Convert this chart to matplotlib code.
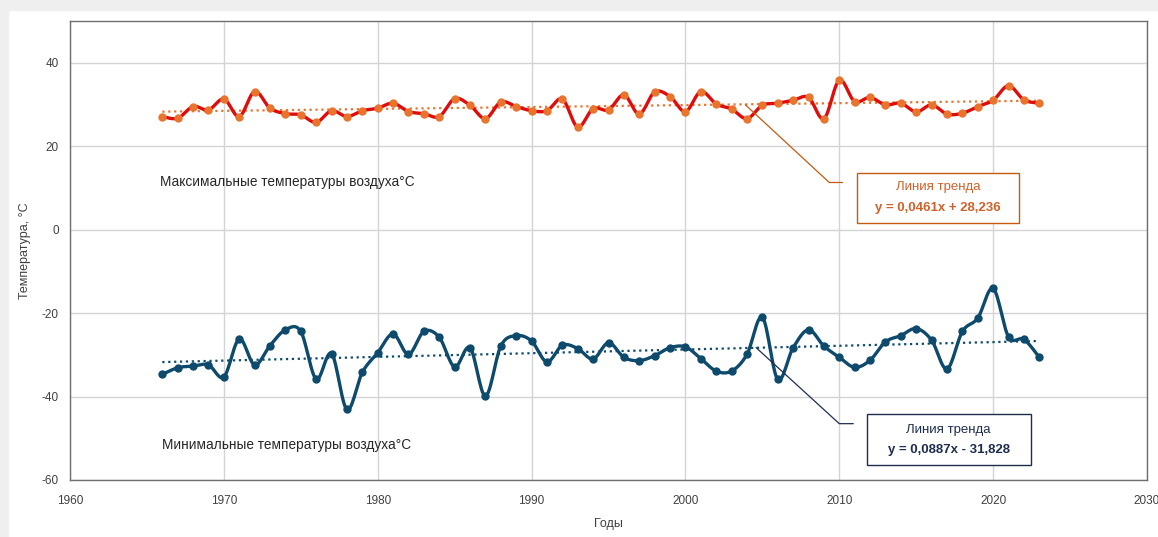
import numpy as np
import matplotlib
matplotlib.use('Agg')
import matplotlib.pyplot as plt
from matplotlib.patches import Rectangle

plt.rcParams['font.family'] = ['Liberation Sans', 'DejaVu Sans']
plt.rcParams['axes.unicode_minus'] = False

# данные
years = list(range(1966, 2024))
t_max = [27.1, 26.7, 29.5, 28.7, 31.3, 27.1, 33.1, 29.1, 27.8, 27.5,
         25.7, 28.5, 27.1, 28.5, 29.1, 30.3, 28.3, 27.8, 27.1, 31.4,
         29.8, 26.6, 30.6, 29.5, 28.5, 28.5, 31.3, 24.6, 29.0, 28.7,
         32.3, 27.7, 33.0, 31.9, 28.3, 33.1, 30.1, 28.9, 26.6, 29.8,
         30.3, 31.0, 31.7, 26.6, 35.8, 30.7, 31.7, 29.9, 30.3, 28.2,
         29.9, 27.7, 27.9, 29.5, 31.0, 34.5, 31.1, 30.3]
t_min = [-34.7, -33.1, -32.7, -32.4, -35.3, -26.2, -32.4, -27.8, -24.0, -24.4,
         -35.8, -29.7, -43.1, -34.2, -29.5, -25.0, -29.9, -24.4, -25.8, -32.9,
         -28.3, -39.9, -27.9, -25.4, -26.7, -31.7, -27.7, -28.5, -31.0, -27.1,
         -30.6, -31.4, -30.2, -28.3, -28.1, -30.9, -33.9, -33.9, -29.9, -21.0,
         -35.9, -28.3, -24.0, -27.9, -30.6, -33.0, -31.3, -26.9, -25.4, -23.7,
         -26.5, -33.4, -24.4, -21.2, -14.1, -25.7, -26.3, -30.6]
trend_max = (0.0461, 28.236)
trend_min = (0.0887, -31.828)

RED = '#e00c0c'
ORANGE = '#e8742e'
BLUE = '#0d4a6b'
NAVY = '#1f2d4d'


def smooth(x, y, n=16):
    # сглаживание как в Excel (Catmull-Rom через Безье)
    P = np.column_stack([x, y]).astype(float)
    out = []
    m = len(P)
    t = np.linspace(0, 1, n)[:, None]
    for i in range(m - 1):
        p0 = P[max(i - 1, 0)]
        p1 = P[i]
        p2 = P[i + 1]
        p3 = P[min(i + 2, m - 1)]
        c1 = p1 + (p2 - p0) / 6
        c2 = p2 - (p3 - p1) / 6
        seg = (1 - t) ** 3 * p1 + 3 * (1 - t) ** 2 * t * c1 + 3 * (1 - t) * t ** 2 * c2 + t ** 3 * p2
        out.append(seg if i == 0 else seg[1:])
    out = np.vstack(out)
    return out[:, 0], out[:, 1]


fig = plt.figure(figsize=(11.58, 5.37), dpi=100)
fig.patch.set_facecolor('white')
fig.patches.append(Rectangle((0, 1 - 10 / 537), 1, 10 / 537, transform=fig.transFigure,
                             color='#efefef', zorder=0))
fig.patches.append(Rectangle((0, 0), 8 / 1158, 1, transform=fig.transFigure,
                             color='#efefef', zorder=0))
ax = fig.add_axes([70 / 1158, 1 - 480 / 537, (1147 - 70) / 1158, (480 - 21) / 537])

ax.set_xlim(1960, 2030)
ax.set_ylim(-60, 50)
ax.set_xticks(range(1960, 2031, 10))
ax.set_yticks(range(-60, 41, 20))
ax.grid(True, color='#d4d4d4', lw=1)
ax.set_axisbelow(True)
for s in ax.spines.values():
    s.set_color('#6e6e6e')
    s.set_linewidth(1)
ax.tick_params(length=0, labelsize=8.5, labelcolor='#404040')
ax.tick_params(axis='x', pad=11)
ax.tick_params(axis='y', pad=8)
ax.set_ylabel('Температура, °C', fontsize=9, color='#404040', labelpad=8)
ax.set_xlabel('Годы', fontsize=9, color='#404040', labelpad=8)

# максимальные
sx, sy = smooth(years, t_max)
ax.plot(sx, sy, color=RED, lw=2.4, zorder=3)
ax.plot(years, t_max, 'o', color=ORANGE, ms=5, zorder=4)
yr = np.array(years)
ax.plot(yr, trend_max[0] * (yr - 1965) + trend_max[1], ':', color=ORANGE, lw=1.6, zorder=2)

# минимальные
sx, sy = smooth(years, t_min)
ax.plot(sx, sy, color=BLUE, lw=2.4, zorder=3)
ax.plot(years, t_min, 'o', color=BLUE, ms=5, zorder=4)
ax.plot(yr, trend_min[0] * (yr - 1965) + trend_min[1], ':', color=BLUE, lw=1.6, zorder=2)

ax.text(1965.85, 11.5, 'Максимальные температуры воздуха°C', fontsize=9.8,
        color='#262626', va='center', ha='left')
ax.text(1966.0, -51.7, 'Минимальные температуры воздуха°C', fontsize=9.8,
        color='#262626', va='center', ha='left')

# подписи линий тренда
ax.plot([2003.9, 2009.35, 2010.2], [29.9, 11.3, 11.3], color='#c55a11', lw=0.9, zorder=5)
ax.add_patch(Rectangle((2011.15, 1.6), 10.55, 12.0, fill=True, facecolor='white',
                       edgecolor='#c55a11', lw=1, zorder=5))
ax.text(2016.4, 10.3, 'Линия тренда', fontsize=9.5, color='#d0612a',
        ha='center', va='center', zorder=6)
ax.text(2016.4, 5.1, 'y = 0,0461x + 28,236', fontsize=9.5, color='#d0612a',
        fontweight='bold', ha='center', va='center', zorder=6)

ax.plot([2004.6, 2010.0, 2010.9], [-28.3, -46.5, -46.5], color=NAVY, lw=0.9, zorder=5)
ax.add_patch(Rectangle((2011.8, -56.3), 10.65, 12.2, fill=True, facecolor='white',
                       edgecolor=NAVY, lw=1, zorder=5))
ax.text(2017.1, -47.9, 'Линия тренда', fontsize=9.5, color=NAVY,
        ha='center', va='center', zorder=6)
ax.text(2017.1, -52.8, 'y = 0,0887x - 31,828', fontsize=9.5, color=NAVY,
        fontweight='bold', ha='center', va='center', zorder=6)

fig.savefig('out.png', dpi=100)
